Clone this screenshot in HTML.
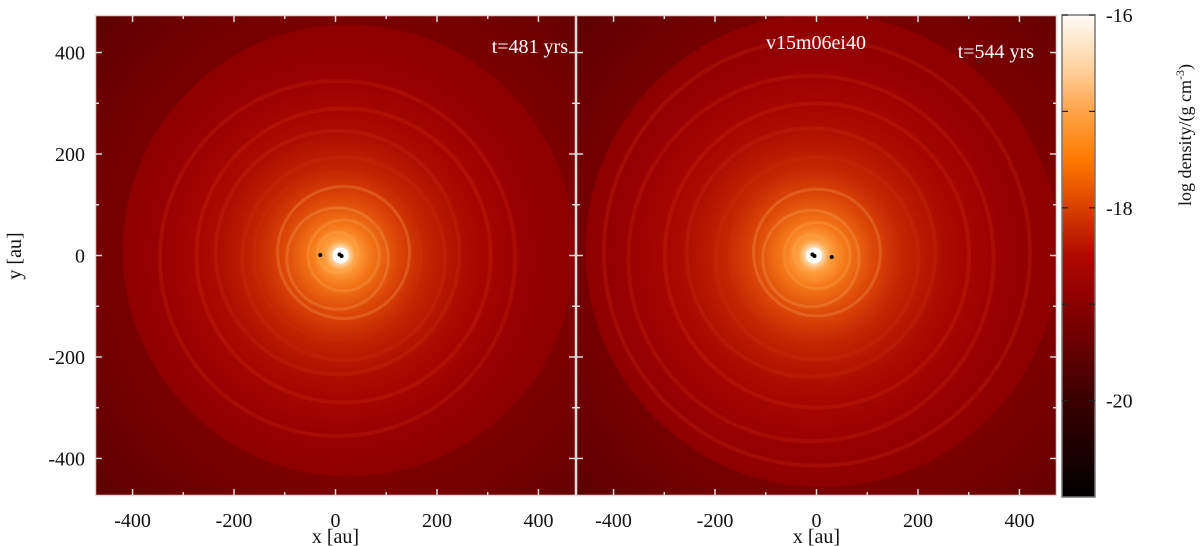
<!DOCTYPE html>
<html><head><meta charset="utf-8"><style>
html,body{margin:0;padding:0;background:#fff;width:1200px;height:546px;overflow:hidden}
svg text{font-family:"Liberation Serif",serif}
</style></head><body>
<svg id="fig" width="1200" height="546" xmlns="http://www.w3.org/2000/svg">
<defs>
<linearGradient id="cbar" x1="0" y1="1" x2="0" y2="0">
<stop offset="0" stop-color="#000"/>
<stop offset="0.2" stop-color="#3a0000"/>
<stop offset="0.4" stop-color="#8a0000"/>
<stop offset="0.5" stop-color="#b00800"/>
<stop offset="0.6" stop-color="#d84000"/>
<stop offset="0.7" stop-color="#ff7a00"/>
<stop offset="0.8" stop-color="#ffa448"/>
<stop offset="0.9" stop-color="#ffd6a8"/>
<stop offset="1" stop-color="#fffcf8"/>
</linearGradient>
<radialGradient id="diskL" cx="0.5" cy="0.5" r="0.5">
<stop offset="0" stop-color="#fff"/>
<stop offset="0.025" stop-color="#fff0d8"/>
<stop offset="0.07" stop-color="#ffa040"/>
<stop offset="0.14" stop-color="#f57818"/>
<stop offset="0.26" stop-color="#dc4a08"/>
<stop offset="0.4" stop-color="#c42400"/>
<stop offset="0.6" stop-color="#aa0a00"/>
<stop offset="0.85" stop-color="#980000"/>
<stop offset="1" stop-color="#900000"/>
</radialGradient>
<radialGradient id="bgL" cx="0.55" cy="0.5" r="0.75">
<stop offset="0.5" stop-color="#860000"/>
<stop offset="1" stop-color="#5c0000"/>
</radialGradient>
<clipPath id="clipL"><rect x="95" y="15" width="481" height="481"/></clipPath>
<clipPath id="clipR"><rect x="576" y="15" width="481" height="481"/></clipPath>
</defs>
<g id="panels"></g>
</svg>
<script>
// axis data
const xTicks=[-400,-200,0,200,400];
const xMinor=[-300,-100,100,300];
const yTicks=[400,200,0,-200,-400];
const yMinor=[300,100,-100,-300];
const cbTicks=[-16,-18,-20];
const cbMinor=[-17,-19];
// ring radii (au) of spiral arms per panel
const ringsL=[40,70,100,130,165,200,240,290,350];
const ringsR=[35,65,95,125,160,200,245,300,360,420];
// sink particle positions (au)
const sinksL=[[-30,1],[8,2],[12,-1]];
const sinksR=[[-8,2],[-4,-1],[30,-3]];
const panelX0=[95,576];
const PW=481, TOP=15, RANGE=474;
const cbTop=-16, cbBot=-21;
const NS="http://www.w3.org/2000/svg";
const G=document.getElementById('panels');
function el(t,a,p){const e=document.createElementNS(NS,t);for(const k in a)e.setAttribute(k,a[k]);(p||G).appendChild(e);return e;}
function sx(p,v){return panelX0[p]+PW/2+v*(PW/2)/RANGE;}
function sy(v){return TOP+PW/2-v*(PW/2)/RANGE;}
const sc=(PW/2)/RANGE;

function panel(p,rings,sinks,cx,cy,diskR){
  const g=el('g',{'clip-path':p?'url(#clipR)':'url(#clipL)'});
  
  
  el('rect',{x:panelX0[p],y:TOP,width:PW,height:PW,fill:'url(#bgL)'},g);
  const X=sx(p,cx),Y=sy(cy);
  el('circle',{cx:X+8,cy:Y-5,r:diskR*sc*1.06,fill:'#8e0000'},g);
  el('circle',{cx:X,cy:Y,r:diskR*sc,fill:'url(#diskL)'},g);
  rings.forEach((r,i)=>{
    const c=el('circle',{cx:X+(i%2?3:-3),cy:Y+(i%3-1)*3,r:r*sc,fill:'none',
      stroke:r<150?'#ffb060':'#d03010','stroke-width':r<150?3:4,'stroke-opacity':r<150?0.25:0.25},g);
    
    
  });
  el('circle',{cx:X,cy:Y,r:8,fill:'#fff'},g);
  sinks.forEach(s=>{
    const c=el('circle',{cx:sx(p,s[0]),cy:sy(s[1]),r:2,fill:'#000'},g);
    
    
  });
  el('rect',{x:panelX0[p]+0.5,y:TOP+0.5,width:PW-1,height:PW-1,fill:'none',stroke:'#ddd','stroke-width':1.5});
  xTicks.concat(xMinor).forEach(v=>{
    const L=xTicks.includes(v)?7:4,x=sx(p,v);
    el('line',{x1:x,x2:x,y1:TOP+PW,y2:TOP+PW-L,stroke:'#ddd','stroke-width':1.5});
    el('line',{x1:x,x2:x,y1:TOP,y2:TOP+L,stroke:'#ddd','stroke-width':1.5});
  });
  yTicks.concat(yMinor).forEach(v=>{
    const L=yTicks.includes(v)?7:4,y=sy(v);
    el('line',{x1:panelX0[p],x2:panelX0[p]+L,y1:y,y2:y,stroke:'#ddd','stroke-width':1.5});
    el('line',{x1:panelX0[p]+PW,x2:panelX0[p]+PW-L,y1:y,y2:y,stroke:'#ddd','stroke-width':1.5});
  });
  xTicks.forEach(v=>{
    const t=el('text',{x:sx(p,v),y:527,'font-size':20,'text-anchor':'middle',fill:'#111'});
    t.textContent=v;
    
    
  });
  const xt=el('text',{x:panelX0[p]+PW/2,y:543,'font-size':20,'text-anchor':'middle',fill:'#111'});
  xt.textContent='x [au]';
  
  
}
panel(0,ringsL,sinksL,10,0,420);
panel(1,ringsR,sinksR,-5,0,440);

yTicks.forEach(v=>{
  const t=el('text',{x:85,y:sy(v)+7,'font-size':20,'text-anchor':'end',fill:'#111'});
  t.textContent=v;
  
  
});
const yt=el('text',{x:0,y:0,'font-size':20,'text-anchor':'middle',fill:'#111',transform:'translate(21,256) rotate(-90)'});
yt.textContent='y [au]';



const a1=el('text',{x:568,y:53,'font-size':20,'text-anchor':'end',fill:'#fff'});
a1.textContent='t=481 yrs';


const a2=el('text',{x:1034,y:58,'font-size':20,'text-anchor':'end',fill:'#fff'});
a2.textContent='t=544 yrs';


const a3=el('text',{x:816,y:49,'font-size':20,'text-anchor':'middle',fill:'#fff'});
a3.textContent='v15m06ei40';



const CBX=1062,CBW=33,CBT=15,CBH=482;
function cy(v){return CBT+(cbTop-v)/(cbTop-cbBot)*CBH;}
const cb=el('rect',{x:CBX,y:CBT,width:CBW,height:CBH,fill:'url(#cbar)',stroke:'#777','stroke-width':1.5});


cbTicks.concat(cbMinor).forEach(v=>{
  el('line',{x1:CBX,x2:CBX+6,y1:cy(v),y2:cy(v),stroke:'#222','stroke-width':1.2});
  el('line',{x1:CBX+CBW,x2:CBX+CBW-6,y1:cy(v),y2:cy(v),stroke:'#222','stroke-width':1.2});
});
cbTicks.forEach(v=>{
  const t=el('text',{x:1106,y:cy(v)+7,'font-size':20,fill:'#111'});
  t.textContent=v;
  
  
});
const cl=el('text',{x:0,y:0,'font-size':18,'text-anchor':'middle',fill:'#111',transform:'translate(1191,135) rotate(-90)'});
cl.innerHTML='log density/(g cm<tspan font-size="12" dy="-7">-3</tspan><tspan dy="7">)</tspan>';


</script>
</body></html>
